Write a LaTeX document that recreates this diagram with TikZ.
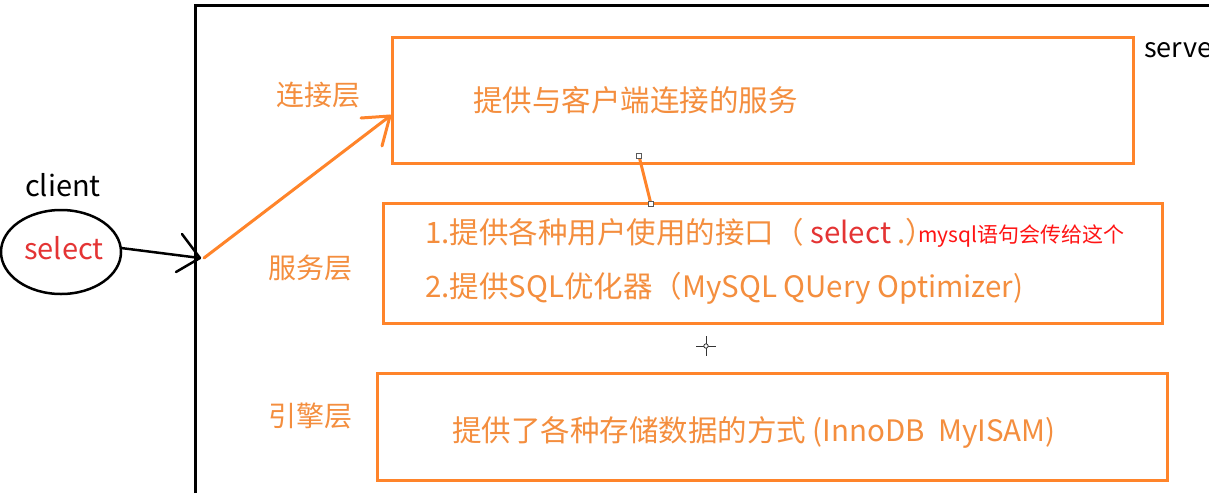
\documentclass[tikz,border=0pt]{standalone}
\usepackage{fontspec}
\setmainfont{Noto Sans CJK SC}
\usetikzlibrary{calc}
\definecolor{boxor}{RGB}{255,132,42}
\definecolor{txtor}{RGB}{244,142,62}
\definecolor{selred}{RGB}{228,52,52}
\definecolor{notered}{RGB}{255,20,20}
\begin{document}
\begin{tikzpicture}[x=1pt,y=-1pt,
  layerbox/.style={draw=boxor,line width=3pt,inner sep=0pt,rectangle},
  layerlabel/.style={text=txtor,font=\fontsize{28}{34}\selectfont,inner sep=0pt},
  boxtext/.style={text=txtor,font=\fontsize{29.5}{35}\selectfont,inner sep=0pt,anchor=west},
  blackline/.style={draw=black,line width=3pt},
  orline/.style={draw=boxor,line width=3pt,line cap=round},
  handle/.style={draw=gray!70!black,fill=white,line width=0.8pt,minimum size=5pt,inner sep=0pt,rectangle}
]
\useasboundingbox (0,0) rectangle (1209,493);
\clip (0,0) rectangle (1209,493);
\fill[white] (0,0) rectangle (1209,493);

% server frame
\draw[blackline] (195,493) -- (195,5) -- (1215,5);
\node[anchor=base west,inner sep=0pt,font=\fontsize{27}{32}\selectfont] (server) at (1144,57) {server};

% boxes
\node[layerbox,minimum width=741pt,minimum height=126pt] (conn) at (762.5,100) {};
\node[layerbox,minimum width=779pt,minimum height=120pt] (serv) at (772.5,263) {};
\node[layerbox,minimum width=790pt,minimum height=107pt] (eng) at (772,426.5) {};

% layer labels
\node[layerlabel] (lconn) at (318,95) {连接层};
\node[layerlabel] (lserv) at (310,268) {服务层};
\node[layerlabel] (leng) at (310,416) {引擎层};

% box texts
\node[boxtext] (tconn) at (473,100) {提供与客户端连接的服务};
\node[boxtext] (tserv1) at (425,232) {1.提供各种用户使用的接口（ \textcolor{selred}{select} .）};
\node[anchor=west,inner sep=0pt,text=notered,font=\fontsize{21}{25}\selectfont] (note) at (918,236) {mysql语句会传给这个};
\node[boxtext] (tserv2) at (425,288) {2.提供SQL优化器（MySQL QUery Optimizer)};
\node[boxtext] (teng) at (452,432) {提供了各种存储数据的方式 (InnoDB\ \ MyISAM)};

% client
\node[inner sep=0pt,font=\fontsize{29}{34}\selectfont] (client) at (63,185) {client};
\draw[line width=2.5pt] (61,252) ellipse [x radius=60, y radius=42];
\coordinate (ellE) at (121,248);
\node[inner sep=0pt,text=selred,font=\fontsize{29}{34}\selectfont] (sel) at (64,248) {select};

% black arrow to server
\coordinate (hit) at (200,258);
\draw[line width=2.5pt] (ellE) -- (hit);
\draw[line width=2.5pt,line cap=round] (hit) -- ++(-18,-24);
\draw[line width=2.5pt,line cap=round] (hit) -- ++(-24,14);

% orange arrow to connection layer
\coordinate (ostart) at (204,258);
\coordinate (otip) at (390,116);
\draw[orline] (ostart) -- (otip);
\draw[orline] (otip) -- ++(-29,2);
\draw[orline] (otip) -- ++(-8,30);

% connector between connection and service layers
\coordinate (h1) at (639,156);
\coordinate (h2) at (651,204);
\draw[orline] (h1) -- (h2);
\node[handle] (hs1) at (h1) {};
\node[handle] (hs2) at (h2) {};

% cursor crosshair
\coordinate (cur) at (706,346);
\draw[gray!40!black,line width=1pt] ($(cur)+(-10,0)$) -- ($(cur)+(10,0)$);
\draw[gray!40!black,line width=1pt] ($(cur)+(0,-10)$) -- ($(cur)+(0,10)$);
\draw[gray!40!black,fill=white,line width=0.8pt] (cur) circle (2.2);
\end{tikzpicture}
\end{document}
